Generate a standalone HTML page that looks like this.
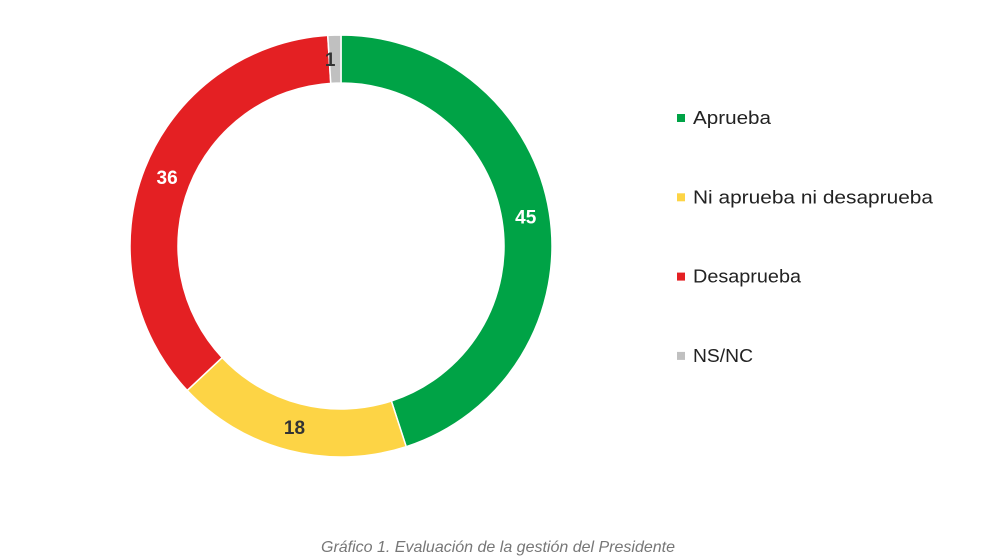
<!DOCTYPE html>
<html><head><meta charset="utf-8"><style>
html,body{margin:0;padding:0;background:#fff;}
svg{display:block;font-family:"Liberation Sans",sans-serif;}
</style></head><body>
<svg id="chart" width="1000" height="560" viewBox="0 0 1000 560">
<g id="slices"></g>
<g id="labels"></g>
<g id="legend"></g>
<text x="498" y="552" text-anchor="middle" font-size="16" font-style="italic" fill="#777">Gráfico 1. Evaluación de la gestión del Presidente</text>
</svg>
<script>
const categories = ["Aprueba", "Ni aprueba ni desaprueba", "Desaprueba", "NS/NC"];
const values = [45, 18, 36, 1];
const colors = ["#00a346", "#fdd445", "#e42023", "#c0c0c0"];
const labelColors = ["#fff", "#333", "#fff", "#333"];
const ns = "http://www.w3.org/2000/svg";
const cx = 341, cy = 246, R = 211, r = 163;
const total = values.reduce((a, b) => a + b, 0);
function pt(rad, a) { return [cx + rad * Math.sin(a), cy - rad * Math.cos(a)]; }
const sg = document.getElementById('slices'), lg = document.getElementById('labels'), leg = document.getElementById('legend');
let acc = 0;
values.forEach((v, i) => {
  const a0 = acc / total * 2 * Math.PI; acc += v;
  const a1 = acc / total * 2 * Math.PI;
  const large = (a1 - a0) > Math.PI ? 1 : 0;
  const [x0, y0] = pt(R, a0), [x1, y1] = pt(R, a1), [x2, y2] = pt(r, a1), [x3, y3] = pt(r, a0);
  const p = document.createElementNS(ns, 'path');
  p.setAttribute('d', `M${x0},${y0} A${R},${R} 0 ${large} 1 ${x1},${y1} L${x2},${y2} A${r},${r} 0 ${large} 0 ${x3},${y3} Z`);
  p.setAttribute('fill', colors[i]); p.setAttribute('stroke', '#fff'); p.setAttribute('stroke-width', '1.5');
  
  
  sg.appendChild(p);
  const [lx, ly] = pt((R + r) / 2, (a0 + a1) / 2);
  const t = document.createElementNS(ns, 'text');
  t.setAttribute('x', v < 3 ? lx - 5 : lx); t.setAttribute('y', ly + 7);
  t.setAttribute('text-anchor', 'middle'); t.setAttribute('font-size', '19'); t.setAttribute('font-weight', 'bold');
  t.setAttribute('fill', labelColors[i]); t.textContent = v;
  
  
  lg.appendChild(t);
  const y = 118 + i * 79.3;
  const g = document.createElementNS(ns, 'g');
  
  
  const s = document.createElementNS(ns, 'rect');
  s.setAttribute('x', 677); s.setAttribute('y', y - 4); s.setAttribute('width', 8); s.setAttribute('height', 8); s.setAttribute('fill', colors[i]);
  
  
  const tx = document.createElementNS(ns, 'text');
  tx.setAttribute('x', 693); tx.setAttribute('y', y + 6); tx.setAttribute('font-size', '18'); tx.setAttribute('fill', '#222');
  const widths = [78, 240, 108, 60];
  tx.setAttribute('textLength', widths[i]); tx.setAttribute('lengthAdjust', 'spacingAndGlyphs');
  tx.textContent = categories[i];
  
  
  g.appendChild(s); g.appendChild(tx); leg.appendChild(g);
});
</script>
</body></html>
